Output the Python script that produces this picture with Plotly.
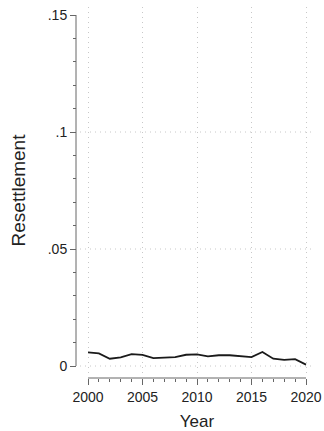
import numpy as np
import plotly.graph_objects as go

years = list(range(2000, 2021))
resettlement = [0.0058, 0.0054, 0.0031, 0.0037, 0.0051, 0.0048, 0.0034, 0.0037,
                0.0038, 0.0048, 0.0050, 0.0041, 0.0046, 0.0046, 0.0043, 0.0038,
                0.0060, 0.0031, 0.0026, 0.0029, 0.0006]

x_ticks = [2000, 2005, 2010, 2015, 2020]
y_ticks = [0, 0.05, 0.1, 0.15]
y_ticktext = ["0", ".05", ".1", ".15"]
y_grid = [0, 0.05, 0.1]

W, H = 324, 431
ml, mr, mt, mb = 76, 10, 7, 53
gap = 4
pw = W - ml - mr
ph = H - mt - mb
xdom0 = gap / pw
ydom0 = gap / ph

xmin, xmax = min(x_ticks), max(x_ticks)
ymin, ymax = min(y_ticks), max(y_ticks)
xpad = (xmax - xmin) * 8 / 218
ypad = (ymax - ymin) * 8 / 351

font = "Liberation Sans, Arial, Helvetica, sans-serif"
gridcol = "#c8c8c8"
axcol = "#666666"
txtcol = "#222222"

fig = go.Figure()
fig.add_trace(go.Scatter(x=years, y=resettlement, mode="lines",
                         line=dict(color="#1a1a1a", width=1.8),
                         showlegend=False, hoverinfo="skip"))

# horizontal dotted grid lines
for v in y_grid:
    fig.add_shape(type="line", xref="paper", yref="y", x0=xdom0, x1=1, y0=v, y1=v,
                  line=dict(color=gridcol, width=1, dash="1px,4px"), layer="below")
# axis lines spanning only the labelled range
fig.add_shape(type="line", xref="paper", yref="y", x0=0, x1=0, y0=ymin, y1=ymax,
              line=dict(color=axcol, width=1))
fig.add_shape(type="line", xref="x", yref="paper", x0=xmin, x1=xmax, y0=0, y1=0,
              line=dict(color=axcol, width=1))

fig.update_layout(
    width=W, height=H,
    margin=dict(l=ml, r=mr, t=mt, b=mb, pad=0, autoexpand=False),
    paper_bgcolor="white", plot_bgcolor="white",
    font=dict(family=font, color=txtcol),
    xaxis=dict(domain=[xdom0, 1], range=[xmin - xpad, xmax + xpad],
               anchor="free", position=0, automargin=False,
               tickvals=x_ticks, ticktext=[str(v) for v in x_ticks],
               ticks="outside", ticklen=6, tickwidth=1, tickcolor=axcol,
               tickfont=dict(size=14, family=font, color=txtcol),
               minor=dict(tickvals=list(range(xmin, xmax + 1)), ticks="outside",
                          ticklen=3, tickwidth=1, tickcolor=axcol, showgrid=False),
               showgrid=True, gridcolor=gridcol, gridwidth=1, griddash="1px,4px",
               showline=False, zeroline=False,
               title=dict(text="Year", font=dict(size=17, family=font, color=txtcol),
                          standoff=11)),
    yaxis=dict(domain=[ydom0, 1], range=[ymin - ypad, ymax + ypad],
               anchor="free", position=0, automargin=False,
               tickvals=y_ticks, ticktext=y_ticktext,
               ticks="outside", ticklen=6, tickwidth=1, tickcolor=axcol,
               tickfont=dict(size=14, family=font, color=txtcol),
               minor=dict(tickvals=[round(v, 2) for v in np.arange(ymin, ymax + 0.001, 0.01)],
                          ticks="outside", ticklen=3, tickwidth=1, tickcolor=axcol,
                          showgrid=False),
               showgrid=False, showline=False, zeroline=False,
               title=dict(text="Resettlement", font=dict(size=19, family=font, color=txtcol),
                          standoff=16)),
)

fig.write_html("out.html", config={"displayModeBar": False},
               post_script="document.body.style.margin='0';document.body.style.overflow='hidden';")
